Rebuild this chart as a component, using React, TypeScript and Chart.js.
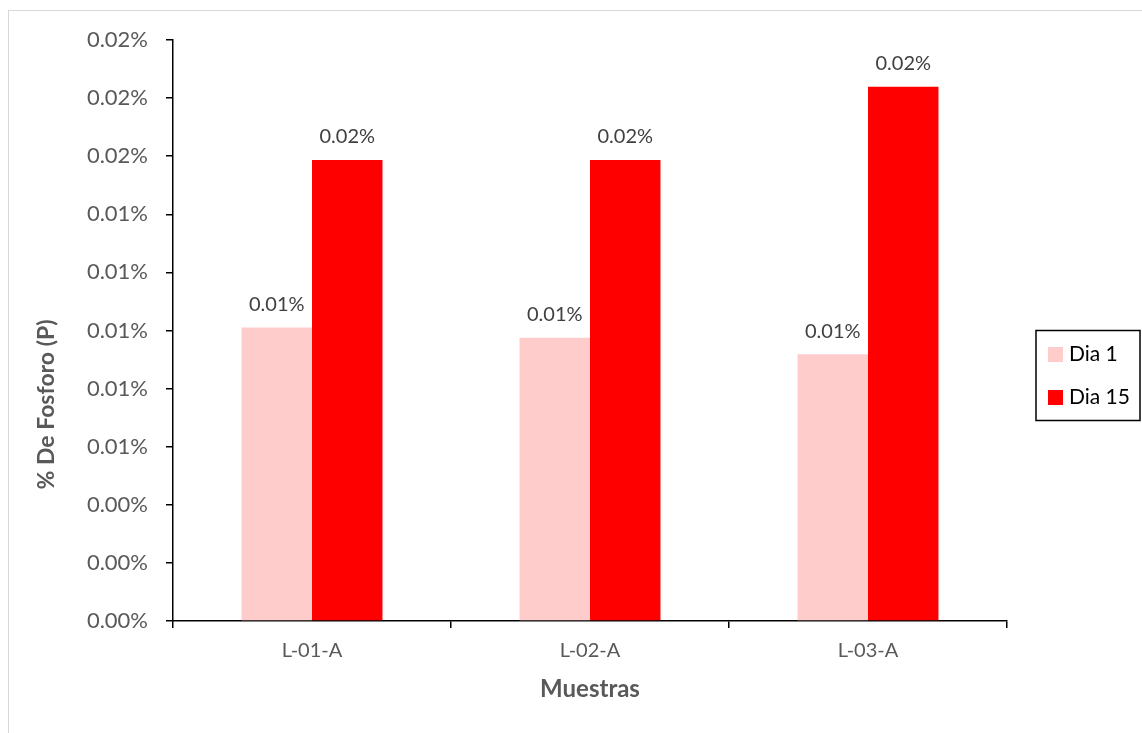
import React, { useEffect, useRef } from "react";
import { Chart, registerables } from "chart.js";

Chart.register(...registerables);

// Samples and phosphorus content (in %) measured on day 1 and day 15
const categories = ["L-01-A", "L-02-A", "L-03-A"];
const seriesNames = ["Dia 1", "Dia 15"];
const dia1Values = [0.0101, 0.00975, 0.00918];
const dia15Values = [0.01587, 0.01587, 0.01839];
const seriesColors = ["#FFCCCC", "#FF0000"];
const yMin = 0;
const yMax = 0.02;
const yStep = 0.002;
const yTitle = "% De Fosforo (P)";
const xTitle = "Muestras";

const FONT = "Lato, 'Open Sans', sans-serif";
const W = 1142;
const H = 733;

const fmtPct = (v: number) => v.toFixed(2) + "%";

// Value labels above each bar
const valueLabels = {
  id: "valueLabels",
  afterDatasetsDraw(chart: any) {
    const ctx = chart.ctx;
    ctx.save();
    ctx.font = `20px ${FONT}`;
    ctx.fillStyle = "#404040";
    ctx.textAlign = "center";
    ctx.textBaseline = "middle";
    chart.data.datasets.forEach((ds: any, i: number) => {
      const meta = chart.getDatasetMeta(i);
      meta.data.forEach((bar: any, j: number) => {
        ctx.fillText(fmtPct(ds.data[j]), bar.x, bar.y - 23);
      });
    });
    ctx.restore();
  },
};

// Vertical axis title, placed a little below the middle of the plot
const yAxisTitle = {
  id: "yAxisTitle",
  afterDraw(chart: any) {
    const ctx = chart.ctx;
    const area = chart.chartArea;
    ctx.save();
    ctx.translate(area.left - 126, (area.top + area.bottom) / 2 + 74);
    ctx.rotate(-Math.PI / 2);
    ctx.font = `bold 23px ${FONT}`;
    ctx.fillStyle = "#595959";
    ctx.textAlign = "center";
    ctx.textBaseline = "middle";
    ctx.fillText(yTitle, 0, 0);
    ctx.restore();
  },
};

// Boxed legend to the right of the plot area
const boxedLegend = {
  id: "boxedLegend",
  afterDraw(chart: any) {
    const ctx = chart.ctx;
    const area = chart.chartArea;
    const left = area.right + 29;
    const width = 104;
    const height = 90;
    const top = (area.top + area.bottom) / 2 - height / 2 + 45;
    ctx.save();
    ctx.strokeStyle = "#000";
    ctx.lineWidth = 1.5;
    ctx.strokeRect(left, top, width, height);
    ctx.font = `21px ${FONT}`;
    ctx.textAlign = "left";
    ctx.textBaseline = "middle";
    chart.data.datasets.forEach((ds: any, i: number) => {
      const cy = top + 24 + i * 43;
      ctx.fillStyle = ds.backgroundColor;
      ctx.fillRect(left + 12, cy - 7.5, 15, 15);
      ctx.fillStyle = "#000";
      ctx.fillText(ds.label, left + 33, cy);
    });
    ctx.restore();
  },
};

export default function App() {
  const ref = useRef<HTMLCanvasElement>(null);

  useEffect(() => {
    if (!ref.current) return;
    const chart = new Chart(ref.current, {
      type: "bar",
      data: {
        labels: categories,
        datasets: [
          {
            label: seriesNames[0],
            data: dia1Values,
            backgroundColor: seriesColors[0],
            barPercentage: 1,
            categoryPercentage: 0.507,
          },
          {
            label: seriesNames[1],
            data: dia15Values,
            backgroundColor: seriesColors[1],
            barPercentage: 1,
            categoryPercentage: 0.507,
          },
        ],
      },
      options: {
        responsive: false,
        animation: false,
        layout: { padding: { left: 0, right: 135, top: 40, bottom: 0 } },
        plugins: {
          legend: { display: false },
          tooltip: { enabled: false },
        },
        scales: {
          x: {
            grid: {
              offset: true,
              drawOnChartArea: false,
              drawTicks: true,
              tickLength: 7,
              color: "#000",
              lineWidth: 1.5,
            },
            border: { color: "#000", width: 1.5 },
            ticks: {
              padding: 11,
              color: "#595959",
              font: { family: FONT, size: 20 },
            },
            title: {
              display: true,
              text: xTitle,
              color: "#595959",
              font: { family: FONT, size: 24, weight: "bold" },
              padding: { top: 0, bottom: 29 },
            },
            afterFit: (s: any) => {
              s.height = 112;
            },
          },
          y: {
            min: yMin,
            max: yMax,
            grid: {
              drawOnChartArea: false,
              drawTicks: true,
              tickLength: 7,
              color: "#000",
              lineWidth: 1.5,
            },
            border: { color: "#000", width: 1.5 },
            ticks: {
              stepSize: yStep,
              padding: 18,
              color: "#595959",
              font: { family: FONT, size: 22 },
              callback: (v: any) => fmtPct(Number(v)),
            },
            afterFit: (s: any) => {
              s.width = 173;
            },
          },
        },
      },
      plugins: [valueLabels, yAxisTitle, boxedLegend],
    });
    return () => chart.destroy();
  }, []);

  return (
    <>
      <div
        style={{
          position: "fixed",
          left: 8,
          top: 10,
          width: 1140,
          height: 730,
          border: "1px solid #d9d9d9",
          background: "#fff",
        }}
      />
      <canvas
        ref={ref}
        width={W}
        height={H}
        style={{ position: "fixed", left: 0, top: 0, width: W, height: H }}
      />
    </>
  );
}
